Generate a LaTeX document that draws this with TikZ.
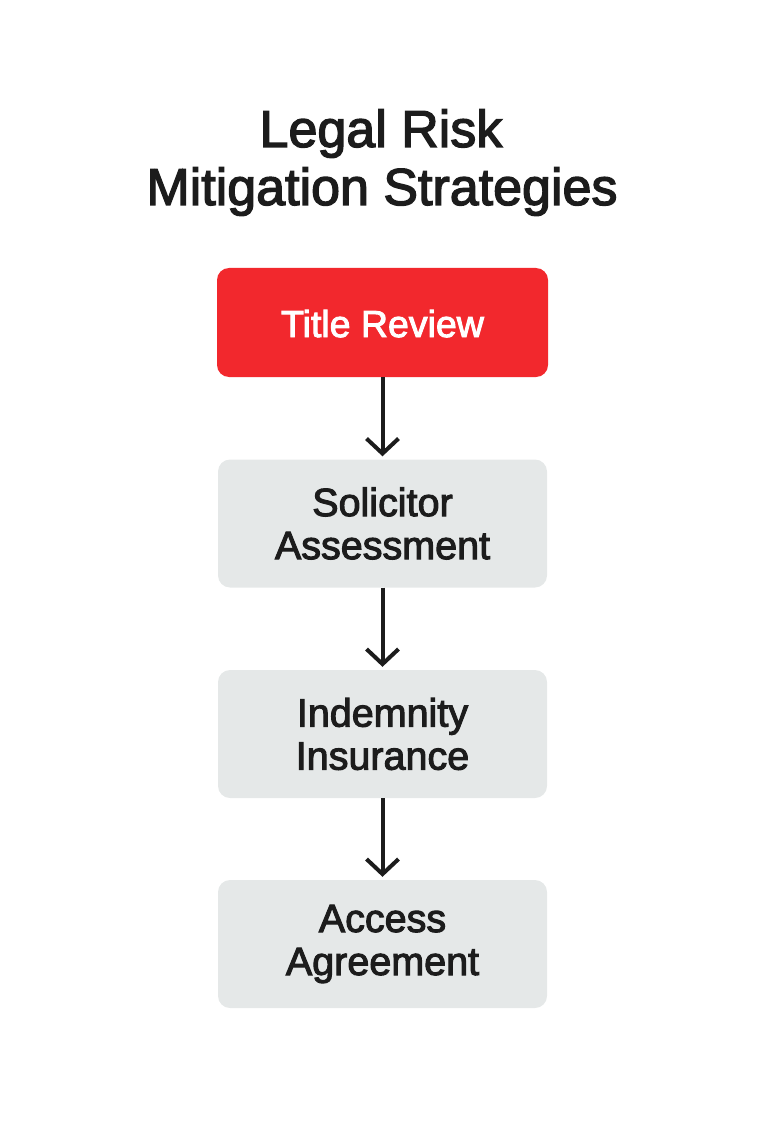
\documentclass[tikz,border=0pt]{standalone}
\usepackage{fontspec}
\setmainfont{Liberation Sans}[FakeBold=2.6]
\usetikzlibrary{arrows.meta}
\definecolor{boxred}{HTML}{F2282D}
\definecolor{boxgray}{HTML}{E5E8E8}
\definecolor{ink}{HTML}{1C1C1C}
\begin{document}
\begin{tikzpicture}[x=1pt,y=1pt,
  titletext/.style={font=\fontsize{52}{58}\selectfont, text=ink, anchor=base, inner sep=0pt},
  redbox/.style={fill=boxred, rounded corners=12pt, minimum width=331pt, minimum height=109pt, inner sep=0pt},
  graybox/.style={fill=boxgray, rounded corners=12pt, minimum width=329pt, minimum height=128pt, inner sep=0pt, align=center, text=ink, font=\fontsize{39.5}{43}\selectfont},
  flow/.style={draw=ink, line width=4pt, -{Straight Barb[length=15pt,width=32pt,line width=4pt]}}
]
\useasboundingbox (0,0) rectangle (765,-1147);
\node[titletext] (t1) at (381,-147) {Legal Risk};
\node[titletext] (t2) at (382,-205) {Mitigation Strategies};

\node[redbox] (b1) at (382.5,-322.5) {};
\node[anchor=base, text=white, font=\fontsize{37.5}{43}\selectfont, inner sep=0pt] (b1t) at (382.5,-337) {Title Review};
\node[graybox] (b2) at (382.5,-523.5) {Solicitor\\Assessment};
\node[graybox] (b3) at (382.5,-734) {Indemnity\\Insurance};
\node[graybox] (b4) at (382.5,-944) {Access\\Agreement};

\draw[flow] (b1.south) -- ([yshift=3pt]b2.north);
\draw[flow] (b2.south) -- ([yshift=3pt]b3.north);
\draw[flow] (b3.south) -- ([yshift=3pt]b4.north);
\end{tikzpicture}
\end{document}
